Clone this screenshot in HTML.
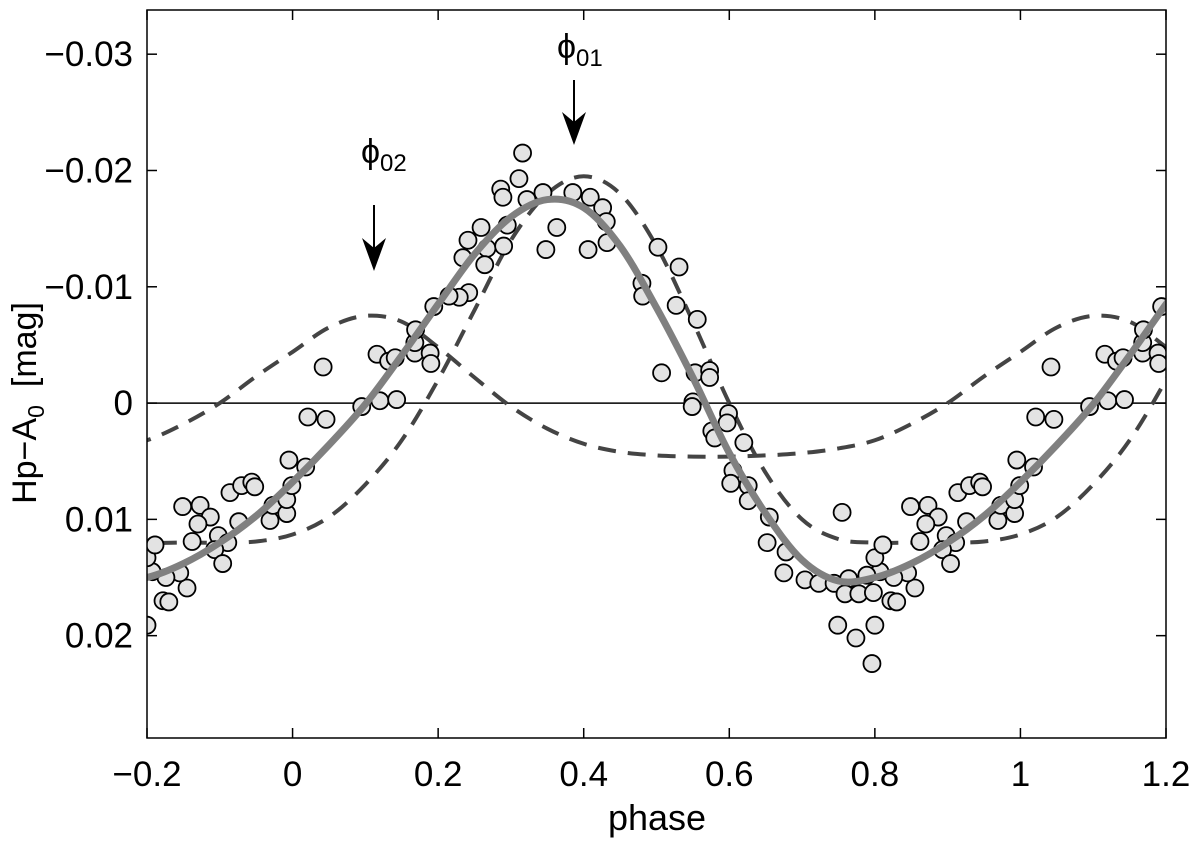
<!DOCTYPE html>
<html><head><meta charset="utf-8"><style>
html,body{margin:0;padding:0;background:#fff;}
svg{display:block;font-family:"Liberation Sans",sans-serif;}
</style></head><body>
<svg id="chart" width="1200" height="845" viewBox="0 0 1200 845">
<defs><clipPath id="plotclip"><rect x="147" y="10" width="1019" height="728"/></clipPath></defs>
<rect x="0" y="0" width="1200" height="845" fill="#fff"/>
<g id="grid"></g>
<g id="curves" clip-path="url(#plotclip)"></g>
<g id="points" clip-path="url(#plotclip)"></g>
<g id="fit" clip-path="url(#plotclip)"></g>
<rect x="147" y="10" width="1019" height="728" fill="none" stroke="#000" stroke-width="1.5"/>
<g id="ticks"></g>
<text x="657" y="830" font-size="36" text-anchor="middle">phase</text>
<text transform="translate(36,403) rotate(-90)" font-size="34" text-anchor="middle">Hp−A<tspan font-size="23" dy="8">0</tspan><tspan dy="-8" dx="18">[mag]</tspan></text>
<g>
<text x="557" y="58" font-size="34">ϕ<tspan font-size="24" dy="8">01</tspan></text>
<line x1="574" y1="80" x2="574" y2="130" stroke="#000" stroke-width="2"/>
<path d="M574 145 L562 112 L574 122 L586 112 Z" fill="#000"/>
</g>
<g>
<text x="361" y="163" font-size="34">ϕ<tspan font-size="24" dy="8">02</tspan></text>
<line x1="374" y1="205" x2="374" y2="255" stroke="#000" stroke-width="2"/>
<path d="M374 271 L362 238 L374 248 L386 238 Z" fill="#000"/>
</g>
</svg>
<script>
// ---- data ----
const xTicks = [-0.2, 0, 0.2, 0.4, 0.6, 0.8, 1, 1.2];
const xTickLabels = ["−0.2", "0", "0.2", "0.4", "0.6", "0.8", "1", "1.2"];
const yTicks = [-0.03, -0.02, -0.01, 0, 0.01, 0.02];
const yTickLabels = ["−0.03", "−0.02", "−0.01", "0", "0.01", "0.02"];
// curves sampled at phase 0,0.05,...,0.95 (periodic), mmag
const curvePhases = [0,0.05,0.1,0.15,0.2,0.25,0.3,0.35,0.4,0.45,0.5,0.55,0.6,0.65,0.7,0.75,0.8,0.85,0.9,0.95];
const fitValues = [6.8,3.6,0.1,-4.1,-8.5,-12.8,-16.0,-17.5,-16.8,-13.5,-8.2,-2.2,4.3,9.5,13.5,15.3,15.0,13.8,12.0,9.7];
const comp1Values = [-4.4,-6.5,-7.5,-7.0,-4.8,-2.2,0.3,2.2,3.5,4.2,4.5,4.6,4.6,4.5,4.3,3.9,3.2,1.8,0.0,-2.3];
const comp2Values = [11.3,9.8,7.0,3.2,-2.0,-8.0,-14.0,-18.0,-19.5,-18.0,-13.5,-7.0,0.0,6.0,10.0,11.7,12.0,12.0,12.0,11.9];
// observations: phase, mmag
const obsPhase = [-0.200,-0.178,-0.170,-0.145,-0.155,-0.174,-0.193,-0.200,-0.189,-0.138,-0.151,-0.127,-0.113,-0.130,-0.102,-0.089,-0.107,-0.096,-0.086,-0.070,-0.056,-0.052,-0.074,-0.031,-0.027,-0.008,-0.008,-0.001,-0.005,0.018,0.021,0.046,0.042,0.095,0.120,0.143,0.116,0.132,0.141,0.168,0.189,0.190,0.168,0.169,0.316,0.311,0.286,0.289,0.322,0.344,0.385,0.409,0.426,0.431,0.432,0.363,0.348,0.406,0.259,0.241,0.234,0.267,0.290,0.264,0.295,0.242,0.229,0.215,0.194,0.502,0.531,0.527,0.556,0.480,0.481,0.507,0.553,0.573,0.573,0.550,0.549,0.599,0.597,0.576,0.580,0.620,0.605,0.602,0.626,0.626,0.655,0.652,0.678,0.675,0.704,0.723,0.744,0.764,0.759,0.778,0.789,0.798,0.755,0.749,0.774,0.796];
const obsMag = [19.1,17.0,17.1,15.9,14.6,15.0,14.5,13.3,12.2,11.9,8.9,8.8,9.8,10.4,11.4,12.0,12.6,13.8,7.7,7.1,6.8,7.2,10.2,10.1,8.8,9.5,8.3,7.1,4.9,5.5,1.2,1.4,-3.1,0.3,-0.2,-0.3,-4.2,-3.6,-3.9,-4.3,-4.3,-3.4,-5.2,-6.3,-21.5,-19.3,-18.4,-17.7,-17.5,-18.1,-18.1,-17.7,-16.8,-15.6,-13.8,-15.1,-13.2,-13.2,-15.1,-14.0,-12.5,-13.3,-13.5,-11.9,-15.3,-9.5,-9.1,-9.2,-8.3,-13.4,-11.7,-8.4,-7.2,-10.3,-9.2,-2.6,-2.6,-2.8,-2.2,-0.1,0.3,0.9,1.7,2.4,3.0,3.4,5.8,6.9,7.1,8.4,9.8,12.0,12.8,14.6,15.2,15.5,15.5,15.1,16.4,16.4,14.8,16.3,9.4,19.1,20.2,22.4];

// ---- axes ----
const X0=147, X1=1166, Y0=10, Y1=738;
const xMin=-0.2, xMax=1.2, yMin=-0.0338, yMax=0.0288;
const sx = p => X0 + (p - xMin) / (xMax - xMin) * (X1 - X0);
const sy = m => Y0 + (m - yMin) / (yMax - yMin) * (Y1 - Y0);
const NS="http://www.w3.org/2000/svg";
function mk(tag, parent){ const e=document.createElementNS(NS,tag); parent.appendChild(e); return e; }

const ticksG=document.getElementById('ticks');
xTicks.forEach((t,i)=>{
  const x=sx(t);
  const a=mk('line',ticksG); a.setAttribute('x1',x);a.setAttribute('x2',x);a.setAttribute('y1',Y1);a.setAttribute('y2',Y1-10);a.setAttribute('stroke','#000');a.setAttribute('stroke-width','1.5');
  
  
  const b=mk('line',ticksG); b.setAttribute('x1',x);b.setAttribute('x2',x);b.setAttribute('y1',Y0);b.setAttribute('y2',Y0+10);b.setAttribute('stroke','#000');b.setAttribute('stroke-width','1.5');
  
  
  const tx=mk('text',ticksG); tx.setAttribute('x',x); tx.setAttribute('y',786); tx.setAttribute('font-size','35'); tx.setAttribute('text-anchor','middle'); tx.textContent=xTickLabels[i];
  
  
});
yTicks.forEach((t,i)=>{
  const y=sy(t);
  const a=mk('line',ticksG); a.setAttribute('x1',X0);a.setAttribute('x2',X0+10);a.setAttribute('y1',y);a.setAttribute('y2',y);a.setAttribute('stroke','#000');a.setAttribute('stroke-width','1.5');
  
  
  const b=mk('line',ticksG); b.setAttribute('x1',X1);b.setAttribute('x2',X1-10);b.setAttribute('y1',y);b.setAttribute('y2',y);b.setAttribute('stroke','#000');b.setAttribute('stroke-width','1.5');
  
  
  const tx=mk('text',ticksG); tx.setAttribute('x',133); tx.setAttribute('y',y+12); tx.setAttribute('font-size','35'); tx.setAttribute('text-anchor','end'); tx.textContent=yTickLabels[i];
  
  
});
// zero line
const gridG=document.getElementById('grid');
const zl=mk('line',gridG); zl.setAttribute('x1',X0);zl.setAttribute('x2',X1);zl.setAttribute('y1',sy(0));zl.setAttribute('y2',sy(0));zl.setAttribute('stroke','#000');zl.setAttribute('stroke-width','1.5');



// periodic curve path
function curvePath(vals){
  const n=vals.length, step=1/n;
  const pts=[];
  for(let k=-6;k<=n+6;k++){
    const idx=((k%n)+n)%n;
    pts.push([sx(k*step), sy(vals[idx]/1000)]);
  }
  let d='M'+pts[0][0]+' '+pts[0][1];
  for(let i=0;i<pts.length-1;i++){
    const p0=pts[Math.max(0,i-1)],p1=pts[i],p2=pts[i+1],p3=pts[Math.min(pts.length-1,i+2)];
    const c1=[p1[0]+(p2[0]-p0[0])/6,p1[1]+(p2[1]-p0[1])/6];
    const c2=[p2[0]-(p3[0]-p1[0])/6,p2[1]-(p3[1]-p1[1])/6];
    d+=` C${c1[0]} ${c1[1]} ${c2[0]} ${c2[1]} ${p2[0]} ${p2[1]}`;
  }
  return d;
}
const curvesG=document.getElementById('curves');
const c1=mk('path',curvesG); c1.setAttribute('d',curvePath(comp1Values)); c1.setAttribute('fill','none'); c1.setAttribute('stroke','#444'); c1.setAttribute('stroke-width','4'); c1.setAttribute('stroke-dasharray','18 12');


const c2=mk('path',curvesG); c2.setAttribute('d',curvePath(comp2Values)); c2.setAttribute('fill','none'); c2.setAttribute('stroke','#444'); c2.setAttribute('stroke-width','4'); c2.setAttribute('stroke-dasharray','18 12');



const ptsG=document.getElementById('points');
obsPhase.forEach((p,i)=>{
  [p, p+1].forEach(pp=>{
    if(pp < xMin-0.02 || pp > xMax+0.02) return;
    const c=mk('circle',ptsG); c.setAttribute('cx',sx(pp)); c.setAttribute('cy',sy(obsMag[i]/1000)); c.setAttribute('r','8.5'); c.setAttribute('fill','#e3e3e3'); c.setAttribute('stroke','#000'); c.setAttribute('stroke-width','1.8');
    
    
  });
});
const fitG=document.getElementById('fit');
const f=mk('path',fitG); f.setAttribute('d',curvePath(fitValues)); f.setAttribute('fill','none'); f.setAttribute('stroke','#808080'); f.setAttribute('stroke-width','7');


</script>
</body></html>
